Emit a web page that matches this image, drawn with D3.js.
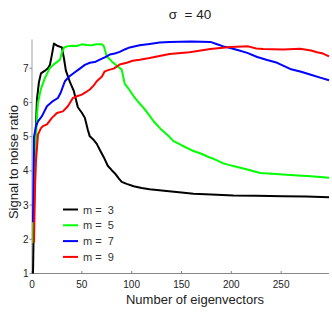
<!DOCTYPE html>
<html>
<head>
<meta charset="utf-8">
<script src="https://cdn.jsdelivr.net/npm/d3@7"></script>
<style>
  body { margin: 0; background: #fff; }
  svg { display: block; font-family: "Liberation Sans", Arial, sans-serif; }
</style>
</head>
<body>
<svg id="chart"></svg>
<script>
'use strict'

const width = 332,
      height = 313

// series: [number of eigenvectors, signal to noise ratio]
const m3 = [[1,1.0],[2,2.8],[3,4.6],[5,6.1],[7,6.6],[9,6.85],[13,6.93],[16,7.0],[18,7.1],[20,7.4],[22,7.72],[26,7.65],[30,7.61],[32,7.3],[34,6.93],[38,6.6],[42,6.33],[46,5.86],[50,5.7],[53,5.55],[56,5.2],[58,5.01],[62,4.9],[65,4.79],[68,4.62],[72,4.4],[76,4.15],[80,4.02],[84,3.9],[87,3.78],[90,3.68],[95,3.62],[102,3.55],[110,3.5],[118,3.46],[135,3.41],[150,3.37],[162,3.33],[180,3.31],[202,3.28],[225,3.27],[252,3.26],[275,3.25],[298,3.23]]

const m5 = [[1,1.9],[2,3.0],[3,4.2],[5,5.65],[6,5.99],[9,6.4],[13,6.72],[18,7.01],[22,7.12],[25,7.18],[28,7.25],[30,7.45],[32,7.6],[35,7.64],[40,7.66],[45,7.65],[50,7.7],[55,7.68],[60,7.67],[65,7.7],[70,7.7],[72,7.65],[75,7.35],[80,7.2],[84,7.1],[90,6.96],[93,6.55],[97,6.4],[102,6.18],[107,6.0],[112,5.84],[117,5.65],[122,5.45],[130,5.2],[136,5.05],[142,4.87],[150,4.75],[162,4.58],[170,4.5],[176,4.42],[184,4.33],[192,4.22],[202,4.14],[215,4.05],[229,3.94],[245,3.91],[259,3.88],[280,3.84],[298,3.8]]

const m7 = [[1,2.5],[2,5.0],[4,5.3],[6,5.45],[10,5.6],[15,5.89],[21,6.04],[26,6.13],[29,6.3],[33,6.62],[37,6.75],[42,6.86],[48,6.99],[53,7.1],[58,7.16],[63,7.18],[68,7.25],[73,7.32],[78,7.4],[83,7.43],[88,7.48],[93,7.55],[98,7.61],[108,7.67],[118,7.71],[128,7.75],[138,7.77],[160,7.78],[179,7.77],[185,7.71],[192,7.64],[199,7.59],[208,7.52],[216,7.45],[226,7.33],[236,7.24],[246,7.16],[259,6.98],[270,6.9],[279,6.82],[290,6.72],[298,6.65]]

const m9 = [[2,1.9],[3,3.5],[4,4.3],[5,4.67],[6,5.06],[9,5.25],[11,5.31],[15,5.36],[20,5.55],[25,5.69],[31,5.74],[36,5.89],[41,6.13],[45,6.18],[50,6.23],[54,6.3],[58,6.38],[62,6.5],[65,6.62],[70,6.75],[73,6.91],[78,6.96],[82,6.99],[88,7.11],[95,7.16],[101,7.22],[108,7.25],[118,7.3],[138,7.42],[158,7.47],[179,7.56],[199,7.62],[217,7.64],[225,7.58],[232,7.56],[252,7.55],[269,7.57],[280,7.52],[286,7.47],[292,7.43],[298,7.35]]

const seriesNames = ["m =  3", "m =  5", "m =  7", "m =  9"]
const seriesColors = ["#000000", "#00ff00", "#0000ff", "#ff0000"]
const seriesData = [m3, m5, m7, m9]

const xTicks = [0, 50, 100, 150, 200, 250]
const yTicks = [1, 2, 3, 4, 5, 6, 7]

const svg = d3.select("#chart")
  .attr("width", width)
  .attr("height", height)

const x = d3.scaleLinear().domain([0, 298]).range([32, 329])
const y = d3.scaleLinear().domain([1, 7.8]).range([273.5, 40.9])

// axes lines
svg.append("line")
  .attr("x1", 32).attr("x2", 32)
  .attr("y1", 39.5).attr("y2", 274)
  .attr("stroke", "#b0b0b0").attr("stroke-width", 1.2)
svg.append("line")
  .attr("x1", 32).attr("x2", 329)
  .attr("y1", 273.5).attr("y2", 273.5)
  .attr("stroke", "#888").attr("stroke-width", 1)

// x ticks
const xg = svg.append("g")
xg.selectAll("line").data(xTicks).enter().append("line")
  .attr("x1", d => x(d)).attr("x2", d => x(d))
  .attr("y1", 273.5).attr("y2", 271)
  .attr("stroke", "#888")
xg.selectAll("text").data(xTicks).enter().append("text")
  .attr("x", d => x(d)).attr("y", 287.5)
  .attr("text-anchor", "middle")
  .attr("font-size", 10)
  .attr("fill", "#222")
  .text(d => d)

// y ticks
const yg = svg.append("g")
yg.selectAll("line").data(yTicks).enter().append("line")
  .attr("x1", 29.5).attr("x2", 32)
  .attr("y1", d => y(d)).attr("y2", d => y(d))
  .attr("stroke", "#888")
yg.selectAll("text").data(yTicks).enter().append("text")
  .attr("x", 28.5).attr("y", d => y(d) + 3.6)
  .attr("text-anchor", "end")
  .attr("font-size", 10)
  .attr("fill", "#222")
  .text(d => d)

// lines
const line = d3.line().x(d => x(d[0])).y(d => y(d[1]))
svg.append("g").selectAll("path").data(seriesData).enter().append("path")
  .attr("d", line)
  .attr("fill", "none")
  .attr("stroke", (d, i) => seriesColors[i])
  .attr("stroke-width", 2)
  .attr("stroke-linejoin", "round")

// legend
const legend = svg.append("g")
  .selectAll("g").data(seriesNames).enter().append("g")
  .attr("transform", (d, i) => `translate(63,${209.5 + i * 15.8})`)
legend.append("line")
  .attr("x1", 0).attr("x2", 15)
  .attr("stroke", (d, i) => seriesColors[i])
  .attr("stroke-width", 2)
legend.append("text")
  .attr("x", 20).attr("y", 4)
  .attr("font-size", 11)
  .attr("fill", "#333")
  .style("white-space", "pre")
  .text(d => d)

// titles
svg.append("text")
  .attr("x", 190).attr("y", 19)
  .attr("text-anchor", "middle")
  .attr("font-size", 13.5)
  .attr("fill", "#222")
  .style("white-space", "pre")
  .text("σ  = 40")
svg.append("text")
  .attr("x", 195).attr("y", 304)
  .attr("text-anchor", "middle")
  .attr("font-size", 13)
  .attr("fill", "#222")
  .text("Number of eigenvectors")
svg.append("text")
  .attr("transform", "translate(18,162) rotate(-90)")
  .attr("text-anchor", "middle")
  .attr("font-size", 13)
  .attr("fill", "#222")
  .text("Signal to noise ratio")
</script>
</body>
</html>
